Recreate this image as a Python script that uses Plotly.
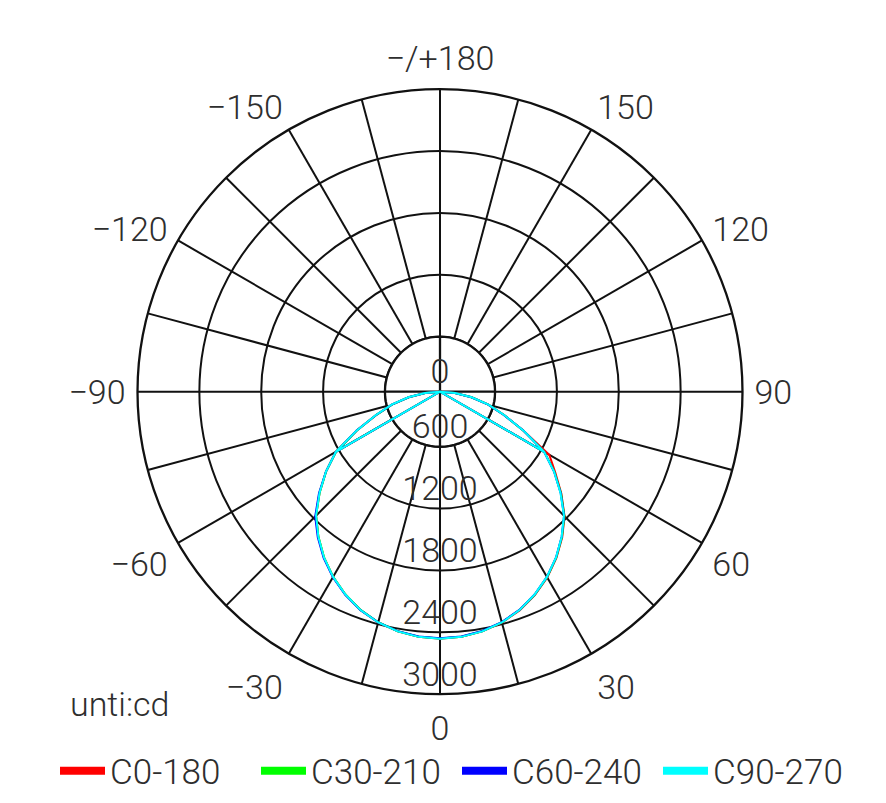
import plotly.graph_objects as go

# ---------------- data ----------------
GAMMA = [0, 5, 10, 15, 20, 25, 30, 35, 40, 45, 50, 55, 60, 65, 70, 75, 80, 85, 90]

SERIES_NAMES = ["C0-180", "C30-210", "C60-240", "C90-270"]
SERIES_COLORS = ["#ff0000", "#00ff00", "#0000ff", "#00ffff"]

# intensity (cd) on the +gamma side (right half of the chart)
C0_180_POS = [2462, 2453, 2427, 2384, 2323, 2242, 2146, 2034, 1910, 1774, 1602, 1430, 1290, 960, 727, 552, 377, 212, 0]
C30_210_POS = [2460, 2451, 2425, 2382, 2320, 2239, 2143, 2031, 1906, 1772, 1598, 1420, 1236, 960, 727, 552, 377, 212, 0]
C60_240_POS = [2458, 2449, 2423, 2380, 2318, 2237, 2140, 2028, 1902, 1768, 1594, 1416, 1232, 958, 725, 550, 375, 211, 0]
C90_270_POS = [2462, 2453, 2427, 2383, 2320, 2237, 2140, 2028, 1902, 1766, 1591, 1416, 1232, 960, 727, 552, 377, 212, 0]

# intensity (cd) on the -gamma side (left half of the chart)
C0_180_NEG = [2462, 2453, 2427, 2383, 2320, 2237, 2140, 2028, 1902, 1766, 1591, 1416, 1232, 958, 725, 550, 375, 211, 0]
C30_210_NEG = [2460, 2451, 2425, 2381, 2318, 2236, 2139, 2027, 1901, 1767, 1590, 1414, 1230, 955, 722, 548, 374, 210, 0]
C60_240_NEG = [2458, 2449, 2424, 2382, 2321, 2240, 2144, 2034, 1910, 1778, 1598, 1416, 1233, 958, 725, 550, 375, 211, 0]
C90_270_NEG = [2462, 2453, 2427, 2383, 2320, 2237, 2140, 2028, 1902, 1766, 1591, 1416, 1232, 960, 727, 552, 377, 212, 0]

SERIES_POS = [C0_180_POS, C30_210_POS, C60_240_POS, C90_270_POS]
SERIES_NEG = [C0_180_NEG, C30_210_NEG, C60_240_NEG, C90_270_NEG]

RADIAL_TICKS = [600, 1200, 1800, 2400, 3000]
RADIAL_LABEL_VALUES = [0, 600, 1200, 1800, 2400, 3000]
RADIAL_LABELS = ["0", "600", "1200", "1800", "2400", "3000"]

ANGLE_TICKS = [0, 15, 30, 45, 60, 75, 90, 105, 120, 135, 150, 165,
               180, 195, 210, 225, 240, 255, 270, 285, 300, 315, 330, 345]
ANGLE_LABELS = ["0", "", "30", "", "60", "", "90", "", "120", "", "150", "",
                "\u2212/+180", "", "\u2212150", "", "\u2212120", "", "\u221290", "", "\u221260", "", "\u221230", ""]

UNIT_TEXT = "unti:cd"

# ---------------- styling / layout constants ----------------
R_MIN, R_MAX = 66, 3000
KINK = 12            # index in GAMMA where the drawn path turns back
FONT = dict(family="Roboto", size=34, color="#2e2e2e", weight=300)
GRID = "#111111"
GRID_W = 2.3

fig = go.Figure()

# inner disc: hides the spokes inside the first ring, redraws that ring
ring_theta = list(range(0, 361, 5))
fig.add_trace(go.Scatterpolar(
    r=[RADIAL_TICKS[0]] * len(ring_theta), theta=ring_theta,
    mode="lines", fill="toself", fillcolor="white",
    line=dict(color=GRID, width=GRID_W), showlegend=False, hoverinfo="skip"))
# main cross through the centre
fig.add_trace(go.Scatterpolar(
    r=[RADIAL_TICKS[0], RADIAL_TICKS[0], None, RADIAL_TICKS[0], RADIAL_TICKS[0]],
    theta=[0, 180, None, 90, 270],
    mode="lines", line=dict(color=GRID, width=GRID_W), showlegend=False, hoverinfo="skip"))


def build_path(pos, neg):
    # main arc -60..60, right tail to centre, back to left kink, left tail, back to right kink
    theta = [-g for g in reversed(GAMMA[1:KINK + 1])] + GAMMA[:KINK + 1]
    r = list(reversed(neg[1:KINK + 1])) + pos[:KINK + 1]
    theta += GAMMA[KINK + 1:]
    r += pos[KINK + 1:]
    theta += [-g for g in GAMMA[KINK:]]
    r += neg[KINK:]
    theta += [GAMMA[KINK]]
    r += [pos[KINK]]
    return theta, r


for name, color, pos, neg in zip(SERIES_NAMES, SERIES_COLORS, SERIES_POS, SERIES_NEG):
    theta, r = build_path(pos, neg)
    fig.add_trace(go.Scatterpolar(
        r=r, theta=theta, mode="lines", name=name,
        line=dict(color=color, width=2), showlegend=False))

# legend entries (thick swatches)
for name, color in zip(SERIES_NAMES, SERIES_COLORS):
    fig.add_trace(go.Scatterpolar(
        r=[None], theta=[None], mode="lines", name=name,
        line=dict(color=color, width=8), showlegend=True))

# radial value labels along the 0 direction
fig.add_trace(go.Scatterpolar(
    r=[max(v, R_MIN) for v in RADIAL_LABEL_VALUES], theta=[0] * len(RADIAL_LABEL_VALUES),
    mode="text", text=RADIAL_LABELS, textposition="top center", marker=dict(size=0),
    textfont=FONT, cliponaxis=False, showlegend=False, hoverinfo="skip"))

# page has an 8px body margin; the figure is sized to fit inside it
OFF = 8
W, H = 886 - 2 * OFF, 803 - 2 * OFF
cx, cy, R = 440 - OFF, 391.7 - OFF, 302.5

fig.update_layout(
    width=W, height=H,
    margin=dict(l=0, r=0, t=0, b=0, autoexpand=False),
    paper_bgcolor="white",
    font=FONT,
    showlegend=True,
    polar=dict(
        domain=dict(x=[(cx - R) / W, (cx + R) / W],
                    y=[(H - cy - R) / H, (H - cy + R) / H]),
        bgcolor="white",
        radialaxis=dict(
            range=[R_MIN, R_MAX], tickmode="array", tickvals=RADIAL_TICKS,
            showticklabels=False, ticks="", showline=False,
            gridcolor=GRID, gridwidth=GRID_W),
        angularaxis=dict(
            rotation=-90, direction="counterclockwise",
            tickmode="array", tickvals=ANGLE_TICKS, ticktext=ANGLE_LABELS,
            ticks="outside", ticklen=4, tickcolor="rgba(0,0,0,0)",
            showline=True, linecolor=GRID, linewidth=GRID_W,
            gridcolor=GRID, gridwidth=GRID_W, tickfont=FONT),
    ),
    legend=dict(orientation="h", x=(457 - OFF) / W, xanchor="center", y=(H - (771 - OFF)) / H,
                yanchor="middle", itemwidth=45, entrywidth=141, entrywidthmode="pixels",
                font=dict(family="Roboto", size=35, color="#2e2e2e", weight=300),
                bgcolor="rgba(0,0,0,0)"),
    annotations=[dict(text=UNIT_TEXT, x=(120 - OFF) / W, y=(H - (704 - OFF)) / H,
                      xref="paper", yref="paper",
                      xanchor="center", yanchor="middle", showarrow=False, font=FONT)],
)

fig.write_html("out.html")
